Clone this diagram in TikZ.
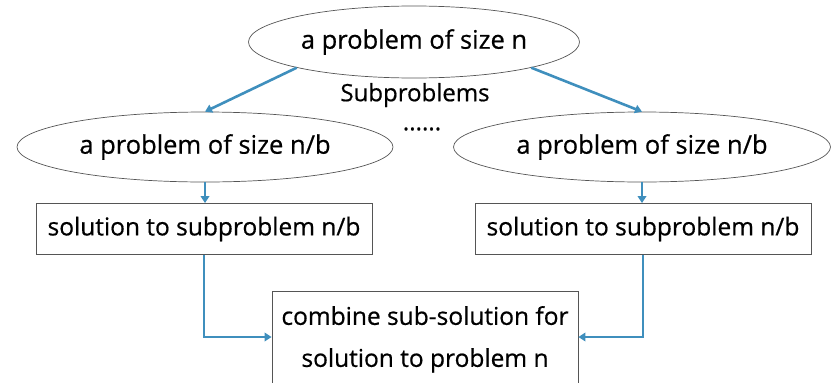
\documentclass[tikz,border=0pt]{standalone}
\usepackage{fontspec}
\setmainfont{Open Sans}[FakeBold=0.6]
\usetikzlibrary{shapes.geometric,arrows.meta}
\definecolor{arrowblue}{HTML}{3F8FBD}
\definecolor{edgegray}{HTML}{555555}
\tikzset{
  ell/.style={draw=edgegray, line width=0.7pt, ellipse, inner sep=0pt, font=\fontsize{25.5}{30}\selectfont},
  box/.style={draw=edgegray, line width=0.8pt, rectangle, inner sep=0pt, font=\fontsize{24.5}{28}\selectfont},
  conn/.style={draw=arrowblue, line width=2.6pt, -{Triangle[length=7pt,width=8.5pt]}},
  lbl/.style={inner sep=0pt, font=\fontsize{24}{28}\selectfont}
}
\begin{document}
\begin{tikzpicture}[x=1pt,y=-1pt]
\useasboundingbox (0,0) rectangle (836,383);
\node[ell, minimum width=331pt, minimum height=72pt] (top) at (414,42) {a problem of size n};
\node[lbl] (sub) at (415,95) {Subproblems};
\node[ell, minimum width=376pt, minimum height=70pt] (l) at (205,147) {a problem of size n/b};
\node[ell, minimum width=377pt, minimum height=70pt] (r) at (642,147) {a problem of size n/b};
\node[lbl] (dots) at (422,129) {......};
\node[box, minimum width=336pt, minimum height=51pt] (lb) at (204,229) {solution to subproblem n/b};
\node[box, minimum width=336pt, minimum height=51pt] (rb) at (643,229) {solution to subproblem n/b};
\node[box, minimum width=306pt, minimum height=96pt, anchor=north, align=center,
      font=\fontsize{24.5}{42}\selectfont] (comb) at (425,291) {combine sub-solution for\\solution to problem n};
\draw[conn] (top.south west) -- (l.north);
\draw[conn] (top.south east) -- (r.north);
\draw[conn] (l.south) -- (l.south |- lb.north);
\draw[conn] (r.south) -- (r.south |- rb.north);
\draw[conn] (lb.south) |- (comb.west |- 0,337);
\draw[conn] (rb.south) |- (comb.east |- 0,337);
\end{tikzpicture}
\end{document}
